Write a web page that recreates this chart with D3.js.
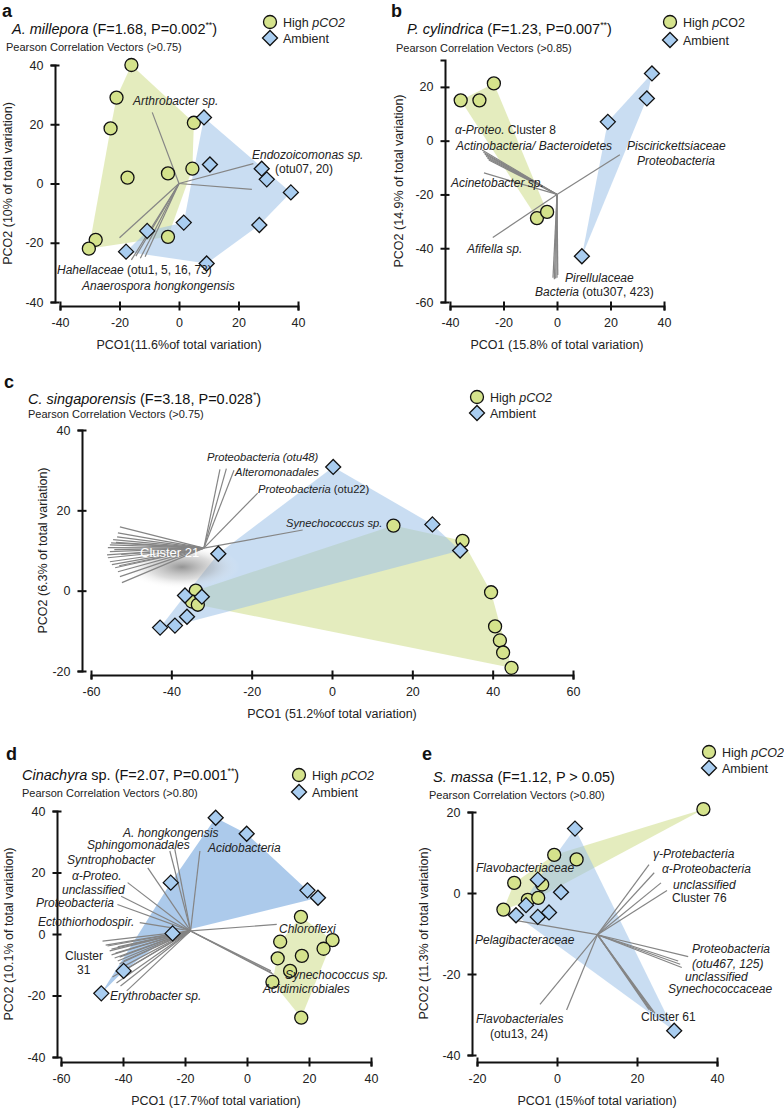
<!DOCTYPE html>
<html><head><meta charset="utf-8">
<script src="https://cdn.jsdelivr.net/npm/d3@7"></script>
<style>body{margin:0;background:#fff}svg{display:block}</style>
</head><body>
<svg id="chart" width="784" height="1109"></svg>
<script>
// ================= DATA =================
// Panel a: A. millepora
const aHigh = [[-16,40],[-21,29],[-23,18.6],[5,20.5],[4.5,5],[-3.7,3.4],[-17.3,2],[-28,-19],[-30.3,-22],[-3.7,-18]];
const aAmb  = [[8.4,22.3],[10.4,6.4],[27.8,5],[29.5,1.4],[37.6,-3],[27,-14],[9.3,-27],[1.6,-13.2],[-10.7,-16],[-17.8,-23]];
const aHighHull = [0,3,4,9,8,2,1];
const aAmbHull  = [0,4,5,6,9,8,7];
const aOrigin = [0,0];
const aVectors = [[-9,24],[25,6.7],[24.5,-2],[-20,-18.3],[-16,-25.8],[-14.5,-24.5],[-13,-25.2],[-11.4,-24.7]];
const aTicksX = [-40,-20,0,20,40], aTicksY = [-40,-20,0,20,40];

// Panel b: P. cylindrica
const bHigh = [[-36,15],[-29,15],[-23.6,21.3],[-7.5,-28.8],[-3.7,-26.5]];
const bAmb  = [[35.5,25],[33.6,15.7],[19,7],[9.3,-43]];
const bOrigin = [0,-20];
const bVectors = [[-28,-3.5],[-27.5,-4.3],[-27,-5],[-26.5,-5.8],[-26,-6.5],[-25.5,-7.2],[-27.3,-12],[-24,-36],[23.5,-5.2],
                  [-1.5,-51],[-1,-51.5],[-0.5,-51.3],[0,-51],[0.3,-50]];
const bTicksX = [-40,-20,0,20,40], bTicksY = [-60,-40,-20,0,20];

// Panel c: C. singaporensis
const cHigh = [[15.3,16.2],[32.5,12.4],[39.6,-0.4],[40.6,-8.9],[41.8,-12.4],[42.6,-15.4],[44.7,-19.2],[-33.9,0],[-34.9,-2.7],[-33.4,-3.5]];
const cAmb  = [[-28.3,9.2],[25,16.5],[31.9,10],[0.3,30.8],[-36.6,-1.2],[-32.4,-1.5],[-36.1,-6.5],[-39.1,-8.7],[-42.8,-9.2]];
const cOrigin = [-31.9,10.6];
const cVectors = [[-27.9,30.2],[-26.3,30.4],[-24.4,30],[-18.5,24.3],[-7.3,15.1],
  [-52.8,15.9],[-53.3,14.4],[-53.5,13.4],[-54.5,12.7],[-55,11.9],[-55.3,11.4],[-53.8,12],[-55.8,10.7],[-54.2,10.2],
  [-55.3,9.7],[-52.5,9],[-56,8.9],[-55.8,8.2],[-55.3,7.2],[-54.8,6.5],[-53,6.2],[-54,5.7],[-53.3,4.7],[-52.8,3.5],[-52.3,2]];
const cTicksX = [-60,-40,-20,0,20,40,60], cTicksY = [-20,0,20,40];

// Panel d: Cinachyra sp.
const dHigh = [[17.4,5.6],[10.7,-2.5],[27.6,-2],[24.7,-4.8],[9.9,-7.9],[17.7,-7.1],[13.9,-12],[8.2,-15.6],[17.5,-27.2]];
const dAmb  = [[-10.1,37.8],[-0.1,32.6],[-24.6,16.7],[19.5,14.2],[22.9,11.8],[-24,0.2],[-39.8,-12],[-47,-19.3]];
const dAmbHull = [7,2,0,1,3,4,5,6];
const dOrigin = [-18.2,1];
const dVectors = [[-24.9,27],[-23.3,27.6],[-15.2,27],[-32,21.5],[-38.5,16.7],[-40.6,12.3],[-41.8,9.6],[-34.6,3.7],
  [-46.6,-2.3],[-45.6,-3.6],[-45,-3.9],[-43.7,-4.9],[-41.7,-4.2],[-44.3,-5.5],[-42.4,-6.2],[-43.7,-6.8],[-41.1,-7.5],
  [-42.7,-7.8],[-39.8,-8.8],[-41.7,-8.8],[-41.1,-9.7],[-40.1,-10.7],[-38.8,-11.4],
  [-43.4,-14],[-42.1,-15.9],[-40.8,-16.9],[-38.8,-18.5],
  [9.6,3.1],[8,-12.6],[7.7,-12],[8.6,-13.2]];
const dTicksX = [-60,-40,-20,0,20,40], dTicksY = [-40,-20,0,20,40];

// Panel e: S. massa
const eHigh = [[36.6,20.7],[-0.7,9.4],[4.9,8.3],[-10.7,2.5],[-3.7,2.1],[-7.3,-1.7],[-4.7,-1.2],[-13.4,-4.1]];
const eAmb  = [[4.5,15.9],[-4.8,3.3],[1,0.2],[-7.75,-3],[-10.25,-5.5],[-4.8,-5.9],[-2,-4.8],[29.3,-34]];
const eOrigin = [10.1,-10.3];
const eVectors = [[23,7],[24.3,5],[26,2.5],[27.5,0.6],[32.8,-15.7],[30.3,-16.8],[30.8,-17.6],[31.2,-18.4],
  [23,-28.8],[23.5,-29.1],[24,-29.4],[24.5,-29.7],[-9.7,-6.9],[-4.25,-27.5],[2.4,-28.9]];
const eTicksX = [-20,0,20,40], eTicksY = [-40,-20,0,20];

// ================= TEXT =================
const I = "i", N = "n";
const titles = {
  a: [["A. millepora",I],[" (F=1.68, P=0.002",N],["**",N,"sup"],[")",N]],
  b: [["P. cylindrica",I],[" (F=1.23, P=0.007",N],["**",N,"sup"],[")",N]],
  c: [["C. singaporensis",I],["  (F=3.18, P=0.028",N],["*",N,"sup"],[")",N]],
  d: [["Cinachyra",I],[" sp. (F=2.07, P=0.001",N],["**",N,"sup"],[")",N]],
  e: [["S. massa",I],[" (F=1.12, P > 0.05)",N]]
};
const subtitles = {a:"Pearson Correlation Vectors (>0.75)", b:"Pearson Correlation Vectors (>0.85)",
  c:"Pearson Correlation Vectors (>0.75)", d:"Pearson Correlation Vectors (>0.80)", e:"Pearson Correlation Vectors (>0.80)"};
const xTitles = {a:"PCO1(11.6%of total variation)", b:"PCO1 (15.8% of total variation)", c:"PCO1 (51.2%of total variation)",
  d:"PCO1 (17.7%of total variation)", e:"PCO1 (15%of total variation)"};
const yTitles = {a:"PCO2 (10% of total variation)", b:"PCO2 (14.9% of total variation)", c:"PCO2 (6.3% of total variation)",
  d:"PCO2 (10.1% of total variation)", e:"PCO2 (11.3% of total variation)"};
const legendHigh = {
  a:[["High ",N],["pCO2",I]], b:[["High ",N],["p",I],["CO2",N]], c:[["High ",N],["pCO2",I]],
  d:[["High ",N],["pCO2",I]], e:[["High ",N],["pCO2",I]]
};
const legendAmb = "Ambient";
const vecLabels = {
  a: [ {p:[133,105], t:[["Arthrobacter sp.",I]]}, {p:[252,159], t:[["Endozoicomonas sp.",I]]},
       {p:[275,173], t:[["(otu07, 20)",N]]}, {p:[57,274], t:[["Hahellaceae",I],[" (otu1, 5, 16, 73)",N]]},
       {p:[82,290], t:[["Anaerospora hongkongensis",I]]} ],
  b: [ {p:[455,134], t:[["α-Proteo.",I],[" Cluster 8",N]]}, {p:[456,150], t:[["Actinobacteria/ Bacteroidetes",I]]},
       {p:[627,150], t:[["Piscirickettsiaceae",I]]}, {p:[637,165], t:[["Proteobacteria",I]]},
       {p:[451,187], t:[["Acinetobacter sp.",I]]}, {p:[467,253], t:[["Afifella sp.",I]]},
       {p:[565,282], t:[["Pirellulaceae",I]]}, {p:[535,296], t:[["Bacteria",I],[" (otu307, 423)",N]]} ],
  c: [ {p:[207,461], t:[["Proteobacteria (otu48)",I]]}, {p:[235,476], t:[["Alteromonadales",I]]},
       {p:[258,493], t:[["Proteobacteria",I],[" (otu22)",N]]}, {p:[286,527], t:[["Synechococcus sp.",I]]},
       {p:[140,557], t:[["Cluster 21",N]], white:true} ],
  d: [ {p:[123,837], t:[["A. hongkongensis",I]]}, {p:[87,849], t:[["Sphingomonadales",I]]},
       {p:[208,852], t:[["Acidobacteria",I]]}, {p:[67,864], t:[["Syntrophobacter",I]]},
       {p:[72,880], t:[["α-Proteo.",I]]}, {p:[62,894], t:[["unclassified",I]]},
       {p:[36,907], t:[["Proteobacteria",I]]}, {p:[38,926], t:[["Ectothiorhodospir.",I]]},
       {p:[65,960], t:[["Cluster",N]]}, {p:[77,974], t:[["31",N]]},
       {p:[110,1000], t:[["Erythrobacter sp.",I]]}, {p:[279,933], t:[["Chloroflexi",I]]},
       {p:[285,979], t:[["Synechococcus sp.",I]]}, {p:[263,993], t:[["Acidimicrobiales",I]]} ],
  e: [ {p:[476,872], t:[["Flavobacteriaceae",I]]}, {p:[653,858], t:[["γ-Protebacteria",I]]},
       {p:[662,873], t:[["α-Proteobacteria",I]]}, {p:[673,889], t:[["unclassified",I]]},
       {p:[672,902], t:[["Cluster 76",N]]}, {p:[475,944], t:[["Pelagibacteraceae",I]]},
       {p:[692,953], t:[["Proteobacteria",I]]}, {p:[692,968], t:[["(otu467, 125)",I]]},
       {p:[685,981], t:[["unclassified",I]]}, {p:[668,993], t:[["Synechococcaceae",I]]},
       {p:[641,1021], t:[["Cluster 61",N]]}, {p:[476,1023], t:[["Flavobacteriales",I]]},
       {p:[490,1038], t:[["(otu13, 24)",N]]} ]
};

// ================= LAYOUT =================
const FONT = "'Liberation Sans', Arial, Helvetica, sans-serif";
const GREEN_FILL = "#c9da7e", BLUE_FILL = "#9dc1e8";
const CIRCLE_FILL = "#d5e38c", DIAMOND_FILL = "#a9cdf0";
const VEC = "#858585";

const panels = [
  {id:"a", high:aHigh, amb:aAmb, highHull:aHighHull, ambHull:aAmbHull, origin:aOrigin, vectors:aVectors,
   xDom:[-40,40], xRng:[60,298], yDom:[-40,40], yRng:[302,65], yAxisX:55, xAxisY:306, tx:aTicksX, ty:aTicksY,
   letter:[2,17], title:[12,34], sub:[6,51], leg:[270,22,38], ytitleX:12, vlabelSize:12},
  {id:"b", high:bHigh, amb:bAmb, origin:bOrigin, vectors:bVectors,
   xDom:[-40,40], xRng:[450,664], yDom:[-60,30], yRng:[302,60], yAxisX:445, xAxisY:306, tx:bTicksX, ty:bTicksY,
   letter:[391,17], title:[407,34], sub:[396,52], leg:[670,22,40], ytitleX:403, vlabelSize:12},
  {id:"c", high:cHigh, amb:cAmb, origin:cOrigin, vectors:cVectors,
   xDom:[-60,60], xRng:[91,573], yDom:[-20,40], yRng:[671,430], yAxisX:82, xAxisY:675, tx:cTicksX, ty:cTicksY,
   letter:[4,388], title:[28,404], sub:[28,418], leg:[477,397,413], ytitleX:47, vlabelSize:11.2, shadow:true},
  {id:"d", high:dHigh, amb:dAmb, ambHull:dAmbHull, origin:dOrigin, vectors:dVectors,
   xDom:[-60,40], xRng:[61,371], yDom:[-40,40], yRng:[1057,811], yAxisX:57, xAxisY:1062, tx:dTicksX, ty:dTicksY,
   letter:[6,760], title:[22,780], sub:[22,797], leg:[299,775,792], ytitleX:13, vlabelSize:12, darkBlue:true},
  {id:"e", high:eHigh, amb:eAmb, origin:eOrigin, vectors:eVectors,
   xDom:[-20,40], xRng:[477,717], yDom:[-40,20], yRng:[1055,812], yAxisX:472, xAxisY:1062, tx:eTicksX, ty:eTicksY,
   letter:[422,760], title:[433,782], sub:[429,799], leg:[709,752,768], ytitleX:428, vlabelSize:12}
];

const svg = d3.select("#chart").style("font-family", FONT);
const defs = svg.append("defs");
const rg = defs.append("radialGradient").attr("id","shadow");
rg.append("stop").attr("offset","0%").attr("stop-color","#7a7a7a").attr("stop-opacity",0.8);
rg.append("stop").attr("offset","55%").attr("stop-color","#a8a8a8").attr("stop-opacity",0.4);
rg.append("stop").attr("offset","100%").attr("stop-color","#ffffff").attr("stop-opacity",0);

const diamondPath = r => `M0,${-r}L${r},0L0,${r}L${-r},0Z`;

function addSegments(sel, segs, baseSize) {
  let prevSup = false;
  segs.forEach(s => {
    const ts = sel.append("tspan").text(s[0]).attr("font-style", s[1]===I ? "italic" : "normal");
    if (s[2] === "sup") {
      ts.attr("font-size", baseSize*0.6).attr("dy", -baseSize*0.38);
    } else if (prevSup) {
      ts.attr("dy", baseSize*0.38);
    }
    prevSup = (s[2] === "sup");
  });
}

function drawPanel(P) {
  const g = svg.append("g");
  const x = d3.scaleLinear().domain(P.xDom).range(P.xRng);
  const y = d3.scaleLinear().domain(P.yDom).range(P.yRng);
  const line = d3.line().x(d => x(d[0])).y(d => y(d[1]));

  // hulls
  const hullPts = (pts, order) => order ? order.map(i => pts[i]) : d3.polygonHull(pts);
  g.append("path").attr("d", line(hullPts(P.high, P.highHull)) + "Z")
    .attr("fill", GREEN_FILL).attr("fill-opacity", 0.5);
  g.append("path").attr("d", line(hullPts(P.amb, P.ambHull)) + "Z")
    .attr("fill", BLUE_FILL).attr("fill-opacity", P.darkBlue ? 0.85 : 0.55);

  // shadow for cluster label
  if (P.shadow) {
    g.append("ellipse").attr("cx", 182).attr("cy", 567).attr("rx", 58).attr("ry", 22)
      .attr("fill", "url(#shadow)");
  }

  // vectors
  g.append("g").selectAll("line").data(P.vectors).join("line")
    .attr("x1", x(P.origin[0])).attr("y1", y(P.origin[1]))
    .attr("x2", d => x(d[0])).attr("y2", d => y(d[1]))
    .attr("stroke", VEC).attr("stroke-width", 1.2);

  // axes
  const fmt = d => String(d);
  const ax = g.append("g").attr("transform", `translate(0,${P.xAxisY})`)
    .call(d3.axisBottom(x).tickValues(P.tx).tickFormat(fmt).tickSizeOuter(0).tickSize(4.5).tickPadding(8));
  ax.selectAll(".tick line").attr("y1", -4.5).attr("y2", 4.5);
  const ay = g.append("g").attr("transform", `translate(${P.yAxisX},0)`)
    .call(d3.axisLeft(y).tickValues(P.ty).tickFormat(fmt).tickSizeOuter(0).tickSize(4.5).tickPadding(7));
  ay.selectAll(".tick line").attr("x1", -4.5).attr("x2", 4.5);
  [ax, ay].forEach(a => {
    a.selectAll("path.domain").attr("stroke", "#111").attr("stroke-width", 2);
    a.selectAll(".tick line").attr("stroke", "#111").attr("stroke-width", 2);
    a.selectAll("text").attr("font-size", 12.5).attr("font-family", FONT).attr("fill", "#222");
  });

  // points
  g.append("g").selectAll("circle").data(P.high).join("circle")
    .attr("cx", d => x(d[0])).attr("cy", d => y(d[1])).attr("r", 6.5)
    .attr("fill", CIRCLE_FILL).attr("stroke", "#111").attr("stroke-width", 1.3);
  g.append("g").selectAll("path").data(P.amb).join("path")
    .attr("transform", d => `translate(${x(d[0])},${y(d[1])})`).attr("d", diamondPath(7.5))
    .attr("fill", DIAMOND_FILL).attr("stroke", "#111").attr("stroke-width", 1.3);

  // axis titles
  g.append("text").attr("x", (P.xRng[0]+P.xRng[1])/2).attr("y", P.xAxisY + 43)
    .attr("text-anchor", "middle").attr("font-size", 12.5).attr("fill", "#222").text(xTitles[P.id]);
  const yMid = (y.range()[0] + y.range()[1]) / 2;
  g.append("text").attr("transform", `translate(${P.ytitleX},${yMid}) rotate(-90)`)
    .attr("text-anchor", "middle").attr("font-size", 12.5).attr("fill", "#222").text(yTitles[P.id]);

  // letter, title, subtitle
  g.append("text").attr("x", P.letter[0]).attr("y", P.letter[1]).attr("font-size", 18)
    .attr("font-weight", "bold").attr("fill", "#111").text(P.id);
  const t = g.append("text").attr("x", P.title[0]).attr("y", P.title[1]).attr("font-size", 14.5).attr("fill", "#111");
  addSegments(t, titles[P.id], 14.5);
  g.append("text").attr("x", P.sub[0]).attr("y", P.sub[1]).attr("font-size", 11).attr("fill", "#222")
    .text(subtitles[P.id]);

  // legend
  const [lx, ly1, ly2] = P.leg;
  g.append("circle").attr("cx", lx).attr("cy", ly1).attr("r", 6.5)
    .attr("fill", CIRCLE_FILL).attr("stroke", "#111").attr("stroke-width", 1.3);
  g.append("path").attr("transform", `translate(${lx},${ly2})`).attr("d", diamondPath(7.5))
    .attr("fill", DIAMOND_FILL).attr("stroke", "#111").attr("stroke-width", 1.3);
  const lt = g.append("text").attr("x", lx + 13).attr("y", ly1 + 4.5).attr("font-size", 12.5).attr("fill", "#222");
  addSegments(lt, legendHigh[P.id], 12.5);
  g.append("text").attr("x", lx + 13).attr("y", ly2 + 4.5).attr("font-size", 12.5).attr("fill", "#222").text(legendAmb);

  // vector labels
  vecLabels[P.id].forEach(L => {
    const te = g.append("text").attr("x", L.p[0]).attr("y", L.p[1])
      .attr("font-size", L.white ? 13 : P.vlabelSize).attr("fill", L.white ? "#ffffff" : "#222");
    addSegments(te, L.t, P.vlabelSize);
  });
}

panels.forEach(drawPanel);
</script>
</body></html>
